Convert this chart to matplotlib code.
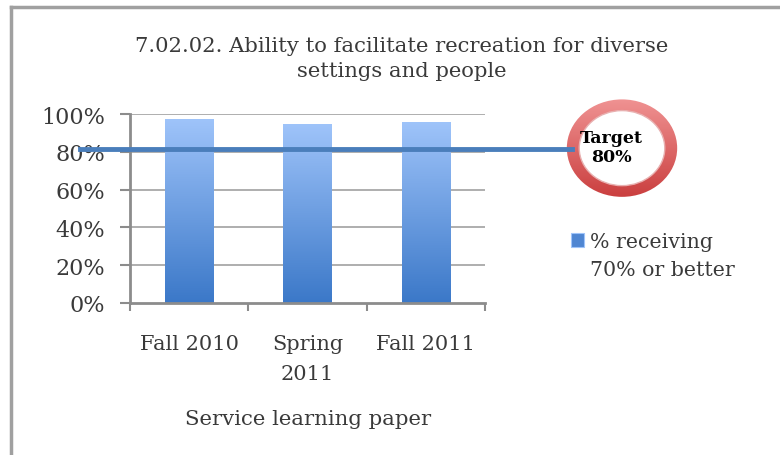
import matplotlib.pyplot as plt
import numpy as np
from matplotlib.patches import Rectangle, Ellipse
from matplotlib.lines import Line2D
from matplotlib.colors import LinearSegmentedColormap

# data
categories = ['Fall 2010', 'Spring\n2011', 'Fall 2011']
pct_70_or_better = [97.4, 94.8, 95.8]
target = 80
yticks = [0, 20, 40, 60, 80, 100]

serif = ['DejaVu Serif']
txt_color = '#3a3a3a'

fig = plt.figure(figsize=(7.8, 4.56), dpi=100)
W, H = 780, 456

def fx(px):
    return px / W

def fy(py):
    return 1 - py / H

# chart frame
fig.add_artist(Line2D([fx(11), fx(11)], [fy(8), 0], color='#a0a0a0', lw=2.5))
fig.add_artist(Line2D([fx(11), 1], [fy(8), fy(8)], color='#a0a0a0', lw=2.5))

ax = fig.add_axes([fx(130), fy(304), fx(485) - fx(130), fy(115) - fy(304)])
x = np.arange(len(categories))
ax.set_ylim(0, 100)

# gridlines
for t in yticks[1:]:
    ax.axhline(t, color='#a8a8a8', lw=1.3, zorder=1)

# gradient bars
grad = np.linspace(0, 1, 256).reshape(-1, 1)
bar_cmap = LinearSegmentedColormap.from_list('bar', ['#3b78c8', '#9fc4fa'])
bars = ax.bar(x, pct_70_or_better, width=0.41, color='none', zorder=2)
for b in bars:
    x0, w, h = b.get_x(), b.get_width(), b.get_height()
    im = ax.imshow(grad, cmap=bar_cmap, origin='lower', aspect='auto',
                   extent=[x0, x0 + w, 0, h], zorder=2)
    im.set_clip_path(b)

# axis styling
for s in ['top', 'right']:
    ax.spines[s].set_visible(False)
for s in ['left', 'bottom']:
    ax.spines[s].set_color('#8c8c8c')
    ax.spines[s].set_linewidth(2)
ax.set_yticks(yticks)
ax.set_yticklabels([f'{t}%' for t in yticks], family=serif, fontsize=16, color=txt_color)
ax.set_xticks(x)
ax.set_xticklabels(categories, family=serif, fontsize=15, color=txt_color, linespacing=1.75)
ax.set_xticks([-0.5, 0.5, 1.5, 2.5], minor=True)
ax.tick_params(axis='x', which='major', length=0, pad=22)
ax.tick_params(axis='x', which='minor', length=6, width=1.5, color='#8c8c8c')
ax.tick_params(axis='y', length=7, width=1.5, color='#8c8c8c', pad=11)
ax.set_xlim(-0.5, len(categories) - 0.5)

# target line extending across the chart
fig.add_artist(Line2D([fx(80), fx(572)], [fy(150), fy(150)], color='#4a7ebb', lw=3.5, zorder=5))

# target ring
ring_ax = fig.add_axes([fx(560), fy(204), fx(124), fy(92) - fy(204)])
ring_ax.set_xlim(-1, 1)
ring_ax.set_ylim(-1, 1)
ring_ax.axis('off')
ring_cmap = LinearSegmentedColormap.from_list('ring', ['#c83a3a', '#f39a9a'])
outer = Ellipse((0.0, -0.02), 1.78, 1.74, facecolor='none', edgecolor='none')
ring_ax.add_patch(outer)
rim = ring_ax.imshow(grad, cmap=ring_cmap, origin='lower', aspect='auto',
                     extent=[-1, 1, -1, 1], zorder=1)
rim.set_clip_path(outer)
ring_ax.add_patch(Ellipse((0.0, -0.02), 1.38, 1.34, facecolor='white',
                          edgecolor='#e8b0b0', lw=1, zorder=2))
ring_ax.text(-0.17, 0.0, 'Target\n80%', ha='center', va='center', fontsize=12.5,
             fontweight='bold', family=serif, color='black', zorder=3, linespacing=1.15)

# legend
fig.add_artist(Rectangle((fx(571), fy(248)), fx(13), fy(234) - fy(248),
                         facecolor='#4f86d2', edgecolor='#9fc4fa', lw=0.8))
fig.text(fx(590), fy(257), '% receiving\n70% or better', family=serif, fontsize=14.8,
         color=txt_color, va='center', ha='left', linespacing=1.6)

# titles
fig.text(fx(402), fy(59), '7.02.02. Ability to facilitate recreation for diverse\nsettings and people',
         family=serif, fontsize=15.2, color=txt_color, ha='center', va='center', linespacing=1.45)
fig.text(fx(308), fy(420), 'Service learning paper', family=serif, fontsize=15.3,
         color=txt_color, ha='center', va='center')

fig.savefig('out.png', dpi=100)
